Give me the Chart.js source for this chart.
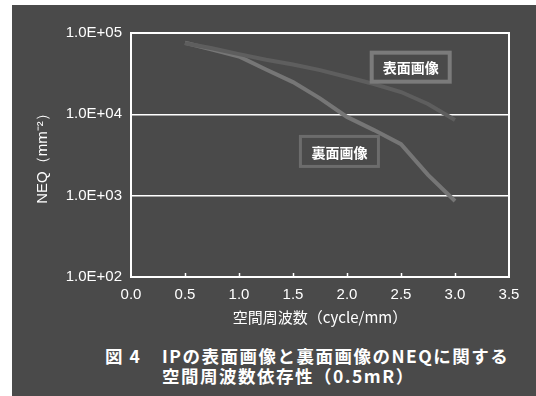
<!DOCTYPE html>
<html>
<head>
<meta charset="utf-8">
<script src="https://cdn.jsdelivr.net/npm/chart.js@4"></script>
<style>
  html, body { margin: 0; padding: 0; background: #fff; }
  #panel {
    position: absolute; left: 12px; top: 5px; width: 524px; height: 391px;
    background: #4a4a4a;
  }
  #wrap { position: absolute; left: 0; top: 0; width: 524px; height: 330px; }
  .cap {
    position: absolute; color: #fff; font-family: "Noto Sans CJK JP", sans-serif;
    font-weight: bold; font-size: 17.5px; letter-spacing: 1.5px; white-space: pre; line-height: 20px;
  }
</style>
</head>
<body>
<div id="panel">
  <div id="wrap"><canvas id="chart"></canvas></div>
  <div class="cap" style="left:93px; top:341px;">図 4</div>
  <div class="cap" style="left:150px; top:341px;">IPの表面画像と裏面画像のNEQに関する</div>
  <div class="cap" style="left:150px; top:361px;">空間周波数依存性（0.5mR）</div>
</div>
<script>
// spatial frequency (cycle/mm)
const freqs = [0.5, 0.75, 1.0, 1.25, 1.5, 1.75, 2.0, 2.25, 2.5, 2.75, 3.0];
// NEQ (mm^-2)
const frontNEQ = [75000, 65000, 55000, 47000, 41000, 35000, 28800, 23600, 18800, 13400, 8500];
const backNEQ = [76000, 62700, 51400, 35600, 24900, 15700, 9300, 6400, 4300, 1800, 860];
const yTicks = [100, 1000, 10000, 100000];
const seriesNames = ["表面画像", "裏面画像"];

const toPoints = vals => vals.map((v, i) => ({ x: freqs[i], y: v }));

// callout boxes, anchored in data coordinates
const callouts = [
  { text: seriesNames[0], x: 2.59, y: 38000, w: 78, h: 29, border: 4, color: "#7b7b7b" },
  { text: seriesNames[1], x: 1.93, y: 3500, w: 78, h: 30, border: 3, color: "#6c6c6c" }
];

const frame = {
  id: "frame",
  afterDatasetsDraw(chart) {
    const { ctx, chartArea: a, scales } = chart;
    ctx.save();
    // little inside ticks along the bottom
    ctx.strokeStyle = "#fff";
    ctx.lineWidth = 1.5;
    for (let v = 0.5; v < 3.5; v += 0.5) {
      const px = Math.round(scales.x.getPixelForValue(v)) + 0.5;
      ctx.beginPath();
      ctx.moveTo(px, a.bottom);
      ctx.lineTo(px, a.bottom - 4);
      ctx.stroke();
    }
    ctx.lineWidth = 2;
    ctx.strokeRect(a.left, a.top, a.right - a.left, a.bottom - a.top);

    for (const c of callouts) {
      const cx = scales.x.getPixelForValue(c.x);
      const cy = scales.y.getPixelForValue(c.y);
      const l = cx - c.w / 2, t = cy - c.h / 2;
      ctx.fillStyle = "#4a4a4a";
      ctx.fillRect(l, t, c.w, c.h);
      ctx.strokeStyle = c.color;
      ctx.lineWidth = c.border;
      ctx.strokeRect(l, t, c.w, c.h);
      ctx.fillStyle = "#fff";
      ctx.font = "bold 14px 'Noto Sans CJK JP'";
      ctx.textAlign = "center";
      ctx.textBaseline = "middle";
      ctx.fillText(c.text, cx, cy + 1);
    }
    ctx.restore();
  }
};

new Chart(document.getElementById("chart"), {
  type: "line",
  data: {
    datasets: [
      { label: seriesNames[0], data: toPoints(frontNEQ), borderColor: "#5e5e5e", borderWidth: 4, pointRadius: 0, tension: 0 },
      { label: seriesNames[1], data: toPoints(backNEQ), borderColor: "#767676", borderWidth: 4, pointRadius: 0, tension: 0 }
    ]
  },
  options: {
    responsive: true,
    maintainAspectRatio: false,
    animation: false,
    layout: { padding: { left: 0, top: 28, right: 27, bottom: 0 } },
    plugins: { legend: { display: false }, tooltip: { enabled: false } },
    scales: {
      x: {
        type: "linear", min: 0, max: 3.5,
        afterFit: s => { s.height = 58; },
        grid: { display: false, drawTicks: false },
        border: { display: false },
        ticks: {
          stepSize: 0.5, padding: 9, color: "#fff",
          font: { family: "'Liberation Sans', Arial", size: 15 },
          callback: v => Number(v).toFixed(1)
        },
        title: {
          display: true, text: "空間周波数（cycle/mm）", color: "#fff",
          font: { family: "'Noto Sans CJK JP'", size: 15 },
          padding: { top: 4, bottom: 9 }
        }
      },
      y: {
        type: "logarithmic", min: 100, max: 100000,
        afterFit: s => { s.width = 119; },
        afterBuildTicks: s => { s.ticks = yTicks.map(v => ({ value: v })); },
        grid: { color: "#fff", lineWidth: 1.5, drawTicks: false },
        border: { display: false },
        ticks: {
          padding: 9, color: "#fff",
          font: { family: "'Liberation Sans', Arial", size: 15 },
          callback: v => "1.0E+0" + Math.round(Math.log10(v))
        },
        title: {
          display: true, text: "NEQ（mm⁻²）", color: "#fff",
          font: { family: "'Liberation Sans', Arial", size: 15 },
          padding: { top: 22, bottom: 0 }
        }
      }
    }
  },
  plugins: [frame]
});
</script>
</body>
</html>
